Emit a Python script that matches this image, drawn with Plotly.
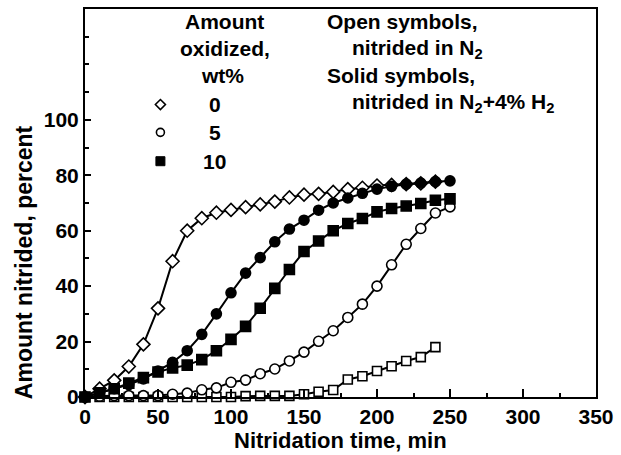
import plotly.graph_objects as go

# ---------------- data ----------------
time_min = [0, 10, 20, 30, 40, 50, 60, 70, 80, 90, 100, 110, 120, 130, 140, 150,
            160, 170, 180, 190, 200, 210, 220, 230, 240, 250]

# 0 wt% oxidized, nitrided in N2 (open diamonds), 0..240 min
ox0_n2 = [0, 3, 6, 11, 19, 32, 49, 60, 64.5, 66.5, 67.5, 68.5, 69.5, 70.5, 72, 73,
          73.3, 74, 75, 75.5, 76.3, 76.5, 76.8, 77.1, 77.7]
# 5 wt% oxidized, nitrided in N2 (open circles)
ox5_n2 = [0, 0.3, 0.5, 0.5, 0.5, 0.5, 1, 1.4, 2.6, 3.3, 5.3, 6.1, 8.4, 10.1, 13, 16.2,
          20.1, 23.9, 28.7, 33.5, 40, 47.7, 55.1, 60.8, 66.4, 68.6]
# 10 wt% oxidized, nitrided in N2 (open squares), 0..240 min
ox10_n2 = [0, 0, 0, 0, 0, 0, 0, 0, 0, 0, 0, 0.3, 0.4, 0.4, 0.4, 1, 1.9, 2.5, 6.3, 7.5,
           9.4, 11.1, 13, 14.4, 18]
# 5 wt% oxidized, nitrided in N2+4% H2 (solid circles)
ox5_h2 = [0, 1.5, 3, 4.5, 6.5, 9.4, 12.5, 16.7, 22.6, 30, 37.6, 44.7, 50.3, 56, 60.6,
          63.8, 67.4, 70, 71.8, 73.5, 75, 76, 76.8, 77.2, 77.7, 78]
# 10 wt% oxidized, nitrided in N2+4% H2 (solid squares)
ox10_h2 = [0, 1.5, 3, 5, 7, 9, 10.5, 11.5, 13.5, 16.7, 20.8, 25.5, 32, 39.2, 46, 52.5,
           56.3, 60, 62.6, 64.4, 66.8, 68, 68.9, 69.8, 71, 71.5]

x_ticks = [0, 50, 100, 150, 200, 250, 300, 350]
y_ticks = [0, 20, 40, 60, 80, 100]

legend_values = ["0", "5", "10"]

# ---------------- figure ----------------
FONT = "Liberation Sans, Arial, Helvetica, sans-serif"
FS = 21
fig = go.Figure()

def add(xs, ys, symbol, filled, size):
    fig.add_trace(go.Scatter(
        x=xs[:len(ys)], y=ys, mode="lines+markers",
        line=dict(color="black", width=2),
        marker=dict(symbol=symbol, size=size,
                    color="black" if filled else "white",
                    line=dict(color="black", width=1.6)),
        showlegend=False, cliponaxis=False))

add(time_min, ox10_n2, "square", False, 9)
add(time_min, ox5_n2, "circle", False, 10)
add(time_min, ox0_n2, "diamond", False, 10)
add(time_min, ox10_h2, "square", True, 10)
add(time_min, ox5_h2, "circle", True, 10)

fig.update_layout(
    width=621, height=455,
    margin=dict(l=85, r=21, t=7, b=58),
    paper_bgcolor="white", plot_bgcolor="white",
    font=dict(family=FONT, size=FS, color="black"),
    xaxis=dict(range=[0, 350], tickvals=x_ticks, ticks="inside", ticklen=8,
               tickwidth=1.5, tickcolor="black",
               minor=dict(dtick=25, tick0=0, ticks="inside", ticklen=4, tickcolor="black"),
               showline=True, linecolor="black", linewidth=2, mirror=True,
               showgrid=False, zeroline=False,
               tickfont=dict(family=FONT, size=FS, weight="bold")),
    yaxis=dict(range=[0, 140], tickvals=y_ticks,
               ticks="inside", ticklen=6, tickwidth=1.5, tickcolor="black",
               minor=dict(dtick=10, tick0=0, ticks="inside", ticklen=4, tickcolor="black"),
               showline=True, linecolor="black", linewidth=2, mirror=True,
               showgrid=False, zeroline=False,
               tickfont=dict(family=FONT, size=FS, weight="bold")),
)

PW, PH = 515.0, 390.0
def px(x):
    return (x - 85) / PW
def py(y):
    return (397 - y) / PH

def note(text, x, y, xanchor="center", size=FS, angle=0):
    fig.add_annotation(text="<b>" + text + "</b>", x=px(x), y=py(y), xref="paper",
                       yref="paper", xanchor=xanchor, yanchor="middle", showarrow=False,
                       textangle=angle, font=dict(family=FONT, size=size, color="black"))

# axis titles
note("Nitridation time, min", 343, 441, size=22)
note("Amount nitrided, percent", 23, 261, size=23, angle=-90)

# legend block
note("Amount", 226, 20)
note("oxidized,", 226, 47)
note("wt%", 224, 74)
rows_y = [103, 131, 160]
for val, yy in zip(legend_values, rows_y):
    note(val, 216, yy)

note("Open symbols,", 327, 20, xanchor="left")
note("nitrided in N<sub>2</sub>", 352, 47, xanchor="left")
note("Solid symbols,", 327, 74, xanchor="left")
note("nitrided in N<sub>2</sub>+4% H<sub>2</sub>", 352, 101, xanchor="left")

# legend symbols (pixel sized shapes anchored in paper coords)
sx = px(161)
fig.add_shape(type="path", xref="paper", yref="paper", xsizemode="pixel",
              ysizemode="pixel", xanchor=sx, yanchor=py(rows_y[0]),
              path="M 0 5 L 5 0 L 0 -5 L -5 0 Z",
              line=dict(color="black", width=1.6), fillcolor="white")
fig.add_shape(type="circle", xref="paper", yref="paper", xsizemode="pixel",
              ysizemode="pixel", xanchor=sx, yanchor=py(rows_y[1]),
              x0=-4, x1=4, y0=-4, y1=4,
              line=dict(color="black", width=1.6), fillcolor="white")
fig.add_shape(type="rect", xref="paper", yref="paper", xsizemode="pixel",
              ysizemode="pixel", xanchor=sx, yanchor=py(rows_y[2]),
              x0=-4.5, x1=4.5, y0=-4.5, y1=4.5,
              line=dict(color="black", width=1), fillcolor="black")

fig.write_html("out.html")
